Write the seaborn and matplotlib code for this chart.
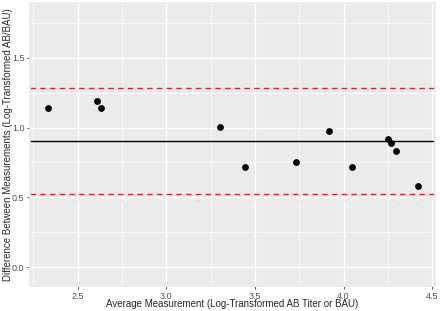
import numpy as np
import pandas as pd
import matplotlib.pyplot as plt
import seaborn as sns

# values
avg_meas = [2.33, 2.607, 2.633, 3.304, 3.445, 3.733, 3.92, 4.05, 4.25, 4.268, 4.295, 4.42]
diff_meas = [1.143, 1.19, 1.138, 1.002, 0.72, 0.755, 0.974, 0.719, 0.919, 0.888, 0.833, 0.579]

df = pd.DataFrame({'avg': avg_meas, 'diff': diff_meas})
mean_diff = df['diff'].mean()
sd_diff = df['diff'].std()
upper = mean_diff + 1.96 * sd_diff
lower = mean_diff - 1.96 * sd_diff

sns.set_theme(style='darkgrid', rc={
    'axes.facecolor': '#EBEBEB',
    'grid.color': 'white',
    'axes.edgecolor': '#EBEBEB',
    'xtick.bottom': True,
    'ytick.left': True,
    'xtick.color': '#333333',
    'ytick.color': '#333333',
    'xtick.major.size': 2.5,
    'ytick.major.size': 2.5,
    'xtick.major.width': 0.6,
    'ytick.major.width': 0.6,
    'xtick.major.pad': 1.5,
    'ytick.major.pad': 1.5,
})
plt.rcParams['font.family'] = ['Liberation Sans', 'DejaVu Sans']

fig = plt.figure(figsize=(4.4, 3.11), dpi=100)
ax = fig.add_axes([0.068, 0.0804, 0.921, 0.9096])

ax.set_xticks([2.25, 2.75, 3.25, 3.75, 4.25], minor=True)
ax.set_yticks([0.25, 0.75, 1.25, 1.75], minor=True)
ax.grid(which='major', color='white', linewidth=1.0)
ax.grid(which='minor', color='white', linewidth=0.5)
ax.tick_params(which='minor', length=0)

ax.axhline(mean_diff, color='black', linewidth=1.0)
ax.axhline(upper, color='#D62728', linestyle=(0, (4, 3)), linewidth=1.0)
ax.axhline(lower, color='#D62728', linestyle=(0, (4, 3)), linewidth=1.0)

sns.scatterplot(data=df, x='avg', y='diff', color='black', s=24, edgecolor='black',
                linewidth=0, ax=ax, zorder=3)

ax.set_xlim(2.23, 4.517)
ax.set_ylim(-0.136, 1.893)
ax.set_xticks([2.5, 3.0, 3.5, 4.0, 4.5])
ax.set_xticklabels(['2.5', '3.0', '3.5', '4.0', '4.5'])
ax.set_yticks([0.0, 0.5, 1.0, 1.5])
ax.set_yticklabels(['0.0', '0.5', '1.0', '1.5'])
ax.tick_params(labelsize=6.5, labelcolor='#4D4D4D')

ax.set_xlabel('Average Measurement (Log-Transformed AB Titer or BAU)', fontsize=7, va='center')
ax.set_ylabel('Difference Between Measurements (Log-Transformed AB/BAU)', fontsize=7, va='center')
ax.xaxis.set_label_coords(0.5, -0.064)
ax.yaxis.set_label_coords(-0.054, 0.5)

fig.savefig('out.png', dpi=100)
